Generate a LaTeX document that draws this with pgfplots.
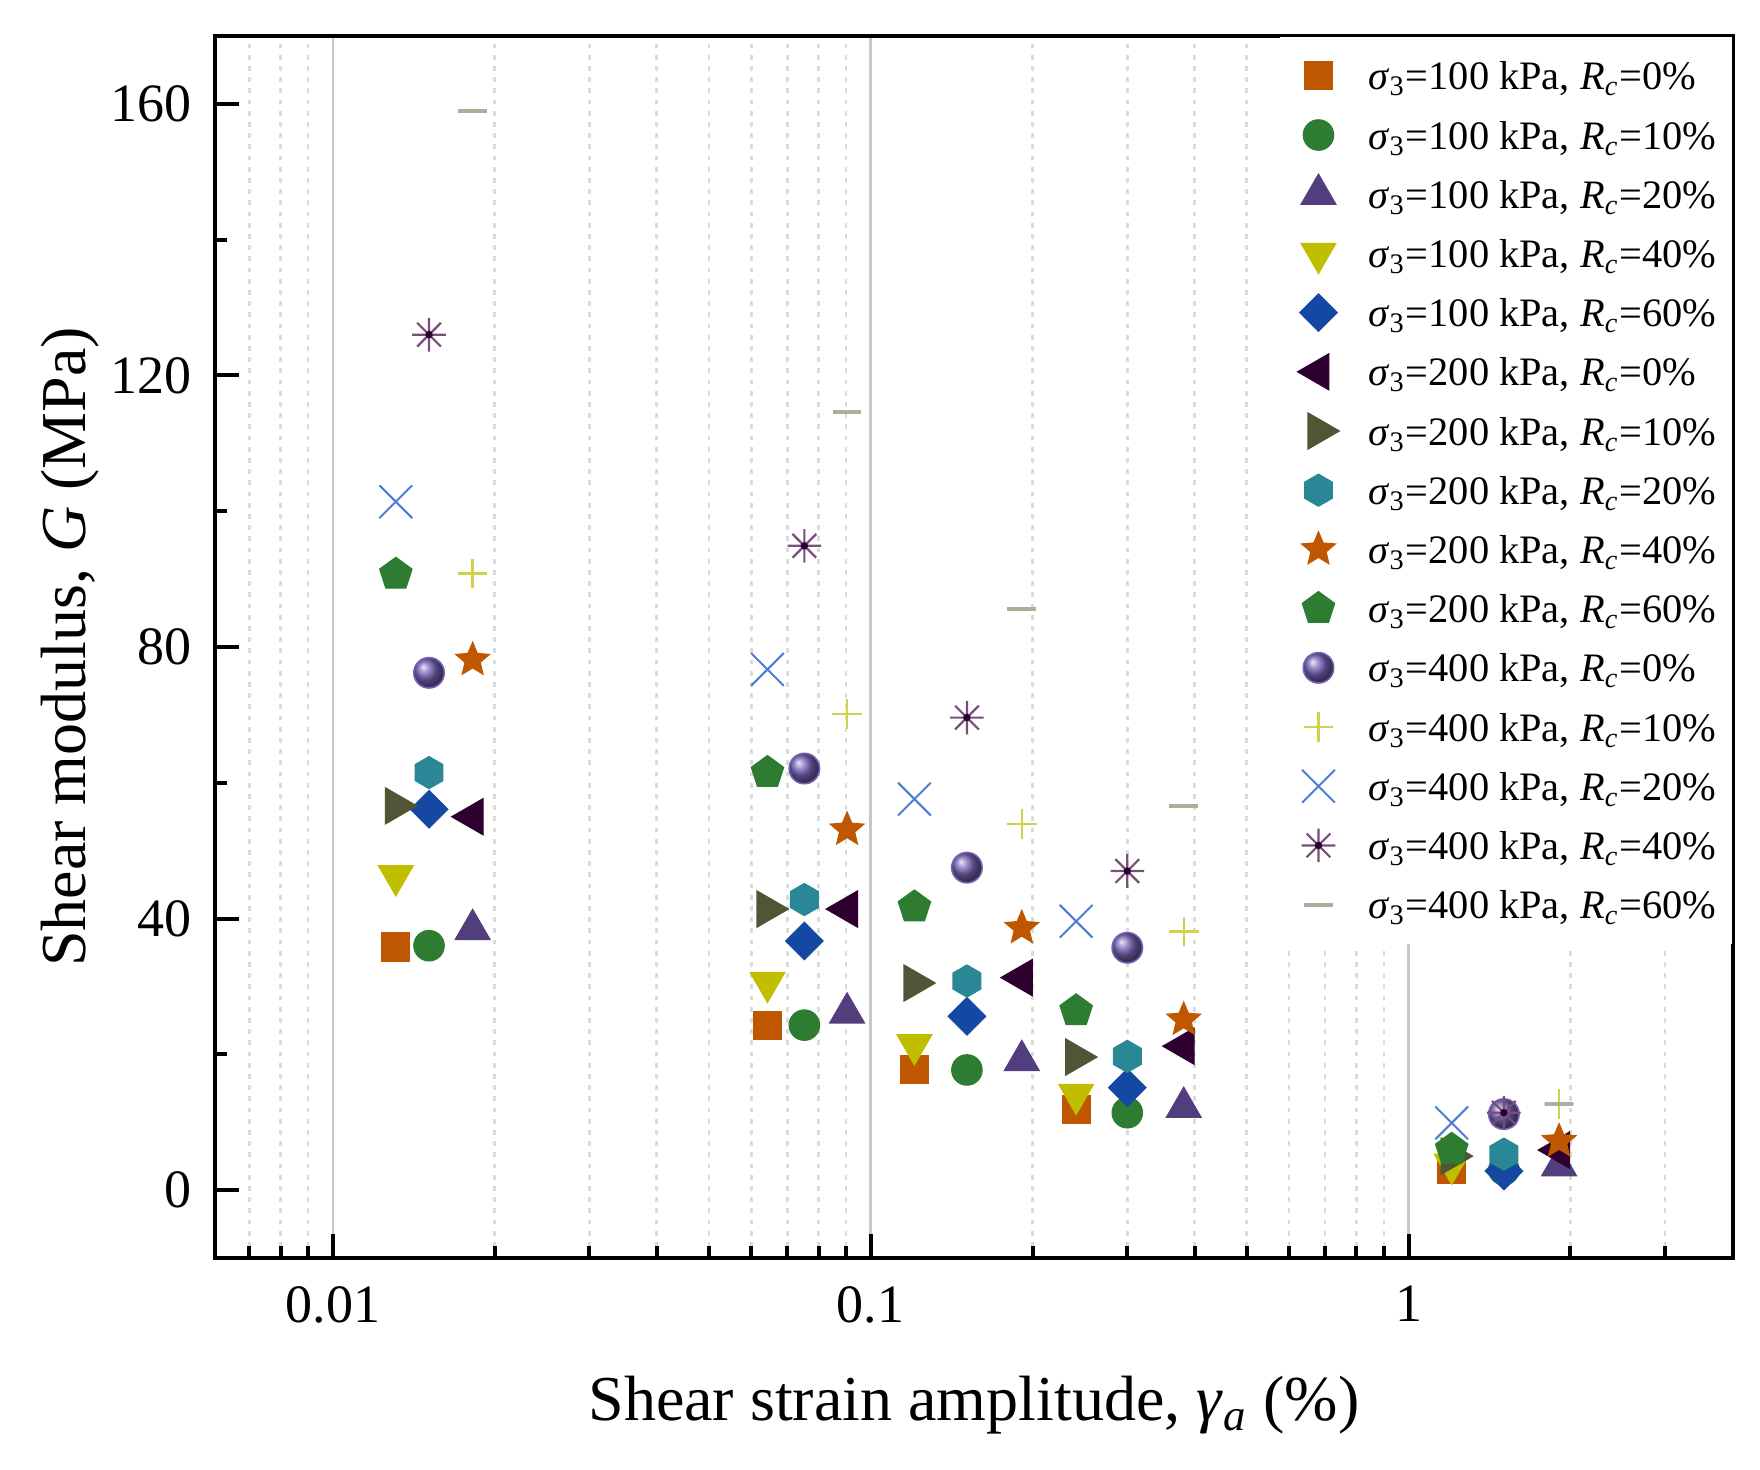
\documentclass[border=0pt]{standalone}
\usepackage{fontspec}
\setmainfont{Liberation Serif}
\usepackage{pgfplots}
\pgfplotsset{compat=1.18}
\usetikzlibrary{plotmarks}

\definecolor{corange}{HTML}{BF5700}
\definecolor{cgreen}{HTML}{2E7B32}
\definecolor{cpurple}{HTML}{533E7D}
\definecolor{cyellow}{HTML}{BFBF00}
\definecolor{cblue}{HTML}{1448A3}
\definecolor{cdark}{HTML}{2D0030}
\definecolor{colive}{HTML}{4F5535}
\definecolor{cteal}{HTML}{2A8796}
\definecolor{cball}{HTML}{7460B4}
\definecolor{cplus}{HTML}{D2D24A}
\definecolor{cx}{HTML}{4A7ED6}
\definecolor{cast}{HTML}{765078}
\definecolor{castc}{HTML}{2A0030}
\definecolor{cdash}{HTML}{A8B29A}

\pgfdeclareplotmark{hexagon*}{%
  \pgfpathmoveto{\pgfqpointpolar{90}{\pgfplotmarksize}}%
  \pgfpathlineto{\pgfqpointpolar{150}{\pgfplotmarksize}}%
  \pgfpathlineto{\pgfqpointpolar{210}{\pgfplotmarksize}}%
  \pgfpathlineto{\pgfqpointpolar{270}{\pgfplotmarksize}}%
  \pgfpathlineto{\pgfqpointpolar{330}{\pgfplotmarksize}}%
  \pgfpathlineto{\pgfqpointpolar{30}{\pgfplotmarksize}}%
  \pgfpathclose\pgfusepathqfillstroke}
\pgfdeclareplotmark{fstar}{%
  \pgfpathmoveto{\pgfqpointpolar{90}{\pgfplotmarksize}}%
  \pgfpathlineto{\pgfqpointpolar{126}{.45\pgfplotmarksize}}%
  \pgfpathlineto{\pgfqpointpolar{162}{\pgfplotmarksize}}%
  \pgfpathlineto{\pgfqpointpolar{198}{.45\pgfplotmarksize}}%
  \pgfpathlineto{\pgfqpointpolar{234}{\pgfplotmarksize}}%
  \pgfpathlineto{\pgfqpointpolar{270}{.45\pgfplotmarksize}}%
  \pgfpathlineto{\pgfqpointpolar{306}{\pgfplotmarksize}}%
  \pgfpathlineto{\pgfqpointpolar{342}{.45\pgfplotmarksize}}%
  \pgfpathlineto{\pgfqpointpolar{18}{\pgfplotmarksize}}%
  \pgfpathlineto{\pgfqpointpolar{54}{.45\pgfplotmarksize}}%
  \pgfpathclose\pgfusepathqfillstroke}
\pgfdeclareplotmark{ast8}{%
  \pgfpathmoveto{\pgfqpoint{0pt}{\pgfplotmarksize}}\pgfpathlineto{\pgfqpoint{0pt}{-\pgfplotmarksize}}%
  \pgfpathmoveto{\pgfqpoint{\pgfplotmarksize}{0pt}}\pgfpathlineto{\pgfqpoint{-\pgfplotmarksize}{0pt}}%
  \pgfpathmoveto{\pgfqpoint{.7071\pgfplotmarksize}{.7071\pgfplotmarksize}}\pgfpathlineto{\pgfqpoint{-.7071\pgfplotmarksize}{-.7071\pgfplotmarksize}}%
  \pgfpathmoveto{\pgfqpoint{-.7071\pgfplotmarksize}{.7071\pgfplotmarksize}}\pgfpathlineto{\pgfqpoint{.7071\pgfplotmarksize}{-.7071\pgfplotmarksize}}%
  \pgfusepathqstroke
  \pgfpathcircle{\pgfpointorigin}{.22\pgfplotmarksize}%
  \pgfsetfillcolor{castc}\pgfusepathqfill}

\newcommand{\lab}[2]{\textit{σ}\textsubscript{3}=#1 kPa, \textit{R}\textsubscript{\textit{c}}=#2\%}

\begin{document}
\begin{tikzpicture}
\begin{axis}[
  at={(0,0)}, anchor=south west,
  scale only axis, width=379.5pt, height=305.5pt,
  xmode=log, xmin=0.00604, xmax=4.01, ymin=-10, ymax=170,
  xtick={0.01,0.1,1}, xticklabels={0.01,0.1,1},
  minor xtick={0.007,0.008,0.009,0.02,0.03,0.04,0.05,0.06,0.07,0.08,0.09,0.2,0.3,0.4,0.5,0.6,0.7,0.8,0.9,2,3},
  ytick={0,40,80,120,160}, minor ytick={20,60,100,140},
  tick align=inside, tick pos=left,
  xmajorgrids, xminorgrids,
  major grid style={color=black!22, line width=0.6pt},
  minor grid style={color=black!14, line width=0.6pt, dash pattern=on 1.2pt off 1.6pt},
  major tick length=6pt, minor tick length=3pt,
  every tick/.style={black, line width=1pt},
  axis line style={line width=1.2pt},
  /pgf/number format/assume math mode=true,
  ticklabel style={font=\fontsize{13.5}{16}\selectfont},
  yticklabel style={xshift=-2.25pt},
  xticklabel style={yshift=-3.5pt},
  xlabel={Shear strain amplitude, \textit{γ}\textsubscript{\textit{a}} (\%)},
  ylabel={Shear modulus, \textit{G} (MPa)},
  label style={font=\fontsize{16}{19}\selectfont},
  xlabel style={at={(axis description cs:0.5,-0.1326)}, anchor=base},
  ylabel style={at={(axis description cs:-0.0856,0.5)}, anchor=base},
  legend cell align=left,
  legend style={at={(1,1)}, anchor=north east, draw=none, fill=white,
    inner xsep=4pt, inner ysep=2.35pt, row sep=0pt, column sep=0pt,
    font=\fontsize{10.1}{12}\selectfont,
    nodes={inner sep=0pt, text height=10.9pt, text depth=3.9pt}},
  legend image code/.code={%
    \path[draw=none,fill=none] (-5.5pt,-7.4pt) rectangle (12.5pt,7.4pt);
    \begin{pgfinterruptboundingbox}
    \draw[mark repeat=2,mark phase=2,#1] plot coordinates {(-1pt,0pt)(0pt,0pt)(1pt,0pt)};
    \end{pgfinterruptboundingbox}},
]
% sigma3=100, Rc=0
\addplot[only marks, color=corange, mark=square*, mark size=3.5pt, line width=0.3pt] coordinates {
 (0.0131,35.8) (0.0643,24.3) (0.1206,17.8) (0.241,11.9) (1.203,3.0)};
\addlegendentry{\lab{100}{0}}
% 100, 10
\addplot[only marks, color=cgreen, mark=*, mark size=3.8pt, line width=0.3pt] coordinates {
 (0.0151,36.0) (0.0753,24.3) (0.151,17.7) (0.300,11.4) (1.504,3.0)};
\addlegendentry{\lab{100}{10}}
% 100, 20
\addplot[only marks, color=cpurple, mark=triangle*, mark size=5pt, line width=0.3pt] coordinates {
 (0.0182,38.4) (0.0904,26.1) (0.191,19.1) (0.382,12.2) (1.905,3.6)};
\addlegendentry{\lab{100}{20}}
% 100, 40
\addplot[only marks, color=cyellow, mark=triangle*, mark size=5pt, line width=0.3pt, mark options={rotate=180}] coordinates {
 (0.0131,46.3) (0.0643,30.6) (0.1206,21.4) (0.241,14.1) (1.203,3.8)};
\addlegendentry{\lab{100}{40}}
% 100, 60
\addplot[only marks, color=cblue, mark=square*, mark size=3.3pt, line width=0.3pt, mark options={rotate=45}] coordinates {
 (0.0151,56.1) (0.0753,36.7) (0.151,25.6) (0.300,15.1) (1.504,2.8)};
\addlegendentry{\lab{100}{60}}
% 200, 0
\addplot[only marks, color=cdark, mark=triangle*, mark size=5.2pt, line width=0.3pt, mark options={rotate=90}] coordinates {
 (0.0182,55.0) (0.0904,41.4) (0.191,31.3) (0.382,21.2) (1.905,5.9)};
\addlegendentry{\lab{200}{0}}
% 200, 10
\addplot[only marks, color=colive, mark=triangle*, mark size=5.2pt, line width=0.3pt, mark options={rotate=-90}] coordinates {
 (0.0131,56.6) (0.0643,41.4) (0.1206,30.5) (0.241,19.6) (1.203,5.0)};
\addlegendentry{\lab{200}{10}}
% 200, 20
\addplot[only marks, color=cteal, mark=hexagon*, mark size=4pt, line width=0.3pt] coordinates {
 (0.0151,61.5) (0.0753,42.8) (0.151,30.8) (0.300,19.7) (1.504,5.3)};
\addlegendentry{\lab{200}{20}}
% 200, 40
\addplot[only marks, color=corange, mark=fstar, mark size=4.4pt, line width=0.3pt] coordinates {
 (0.0182,78.1) (0.0904,53.1) (0.191,38.6) (0.382,25.1) (1.905,7.2)};
\addlegendentry{\lab{200}{40}}
% 200, 60
\addplot[only marks, color=cgreen, mark=pentagon*, mark size=4.25pt, line width=0.3pt] coordinates {
 (0.0131,90.7) (0.0643,61.5) (0.1206,41.7) (0.241,26.4) (1.203,6.0)};
\addlegendentry{\lab{200}{60}}
% 400, 0
\addplot[only marks, color=cball, mark=ball, mark size=3.8pt, mark options={ball color=cball}] coordinates {
 (0.0151,76.2) (0.0753,62.1) (0.151,47.5) (0.300,35.7) (1.504,11.2)};
\addlegendentry{\lab{400}{0}}
% 400, 10
\addplot[only marks, color=cplus, mark=+, mark size=3.7pt, line width=0.6pt] coordinates {
 (0.0182,90.8) (0.0904,70.1) (0.191,53.9) (0.382,38.1) (1.905,12.7)};
\addlegendentry{\lab{400}{10}}
% 400, 20
\addplot[only marks, color=cx, mark=x, mark size=5.8pt, line width=0.5pt] coordinates {
 (0.0131,101.4) (0.0643,76.7) (0.1206,57.6) (0.241,39.6) (1.203,9.9)};
\addlegendentry{\lab{400}{20}}
% 400, 40
\addplot[only marks, color=cast, mark=ast8, mark size=4.2pt, line width=0.55pt] coordinates {
 (0.0151,126.0) (0.0753,94.9) (0.151,69.6) (0.300,47.0) (1.504,11.4)};
\addlegendentry{\lab{400}{40}}
% 400, 60
\addplot[only marks, color=cdash, mark=-, mark size=3.6pt, line width=1pt] coordinates {
 (0.0182,158.9) (0.0904,114.6) (0.191,85.6) (0.382,56.6) (1.905,12.7)};
\addlegendentry{\lab{400}{60}}
\end{axis}
\pgfresetboundingbox
\path[use as bounding box] (-53.75pt,-53pt) rectangle (386.25pt,314.5pt);
\end{tikzpicture}
\end{document}
